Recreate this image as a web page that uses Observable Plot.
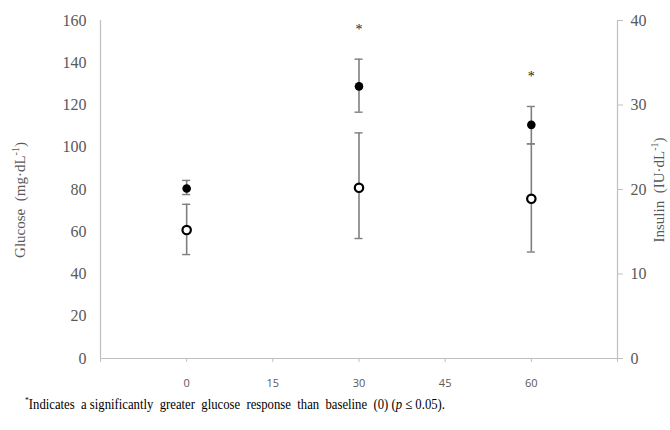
<!DOCTYPE html>
<html>
<head>
<meta charset="utf-8">
<script src="https://cdn.jsdelivr.net/npm/d3@7"></script>
<script src="https://cdn.jsdelivr.net/npm/@observablehq/plot@0.6"></script>
<style>
  html, body { margin: 0; padding: 0; background: #fff; }
  #chart { width: 670px; height: 390px; }
  #note { position: relative; height: 40px; font-family: "Liberation Serif", serif; font-size: 15px; color: #000; }
  #note span.t { position: absolute; left: 25px; top: 5px; white-space: pre; transform-origin: 0 0; }
  sup { font-size: 9px; }
</style>
</head>
<body>
<div id="chart"></div>
<div id="note"><span class="t"><sup>*</sup>Indicates  a significantly  greater  glucose  response  than  baseline  (0) (<i>p</i> ≤ 0.05).</span></div>
<script>
// Data
const times = [0, 30, 60];
const glucoseMean = [80.5, 128.8, 110.6];
const glucoseLow  = [77.6, 116.6, 101.6];
const glucoseHigh = [84.3, 141.7, 119.3];
const insulinMean = [15.2, 20.2, 18.9];
const insulinLow  = [12.3, 14.2, 12.6];
const insulinHigh = [18.25, 26.7, 25.4];
const significant = [false, true, true];

const xTicks = [-15, 0, 15, 30, 45, 60, 75];
const xLabelTicks = [0, 15, 30, 45, 60];
const glucoseTicks = [0, 20, 40, 60, 80, 100, 120, 140, 160];
const insulinTicks = [0, 10, 20, 30, 40];

const INS_SCALE = 4; // 40 IU on right axis = 160 mg on left axis

const rows = times.map((t, i) => ({
  t,
  g: glucoseMean[i], gLo: glucoseLow[i], gHi: glucoseHigh[i],
  ins: insulinMean[i] * INS_SCALE, insLo: insulinLow[i] * INS_SCALE, insHi: insulinHigh[i] * INS_SCALE,
  sig: significant[i]
}));

const axisGray = "#bfbfbf";
const barGray = "#7f7f7f";
const textGray = "#595959";
const capHalf = 0.7;

const plot = Plot.plot({
  width: 670,
  height: 390,
  marginLeft: 100,
  marginRight: 53,
  marginTop: 20,
  marginBottom: 32,
  x: { domain: [-15, 75] },
  y: { domain: [0, 160] },
  style: { background: "#fff", fontFamily: "'Liberation Serif', serif" },
  marks: [
    Plot.ruleX([-15], { stroke: axisGray, strokeWidth: 1.2 }),
    Plot.ruleX([75], { stroke: axisGray, strokeWidth: 1.2 }),
    Plot.ruleY([0], { stroke: axisGray, strokeWidth: 1.2 }),
    Plot.axisX({
      ticks: xTicks, tickSize: 4, tickPadding: 17, stroke: axisGray, fill: textGray,
      tickFormat: d => xLabelTicks.includes(d) ? String(d) : "",
      fontSize: 11, label: null, className: "xax"
    }),
    Plot.axisY({
      anchor: "left", ticks: glucoseTicks, tickSize: 0, tickPadding: 14, fill: textGray,
      fontSize: 16, label: null
    }),
    Plot.axisY({
      anchor: "right", ticks: insulinTicks.map(v => v * INS_SCALE), tickSize: 5, tickPadding: 8,
      stroke: axisGray, fill: textGray, tickFormat: d => String(d / INS_SCALE),
      fontSize: 16, label: null
    }),
    // insulin error bars
    Plot.ruleX(rows, { x: "t", y1: "insLo", y2: "insHi", stroke: barGray, strokeWidth: 1.6 }),
    Plot.ruleY(rows, { y: "insLo", x1: d => d.t - capHalf, x2: d => d.t + capHalf, stroke: barGray, strokeWidth: 1.4 }),
    Plot.ruleY(rows, { y: "insHi", x1: d => d.t - capHalf, x2: d => d.t + capHalf, stroke: barGray, strokeWidth: 1.4 }),
    // glucose error bars
    Plot.ruleX(rows, { x: "t", y1: "gLo", y2: "gHi", stroke: barGray, strokeWidth: 1.6 }),
    Plot.ruleY(rows, { y: "gLo", x1: d => d.t - capHalf, x2: d => d.t + capHalf, stroke: barGray, strokeWidth: 1.4 }),
    Plot.ruleY(rows, { y: "gHi", x1: d => d.t - capHalf, x2: d => d.t + capHalf, stroke: barGray, strokeWidth: 1.4 }),
    // points
    Plot.dot(rows, { x: "t", y: "ins", r: 4.2, fill: "#fff", stroke: "#000", strokeWidth: 2.2 }),
    Plot.dot(rows, { x: "t", y: "g", r: 4.3, fill: "#000", stroke: "none" }),
    // significance asterisks
    Plot.text(rows.filter(d => d.sig), {
      x: "t", y: "gHi", text: () => "*", dy: -30, fill: "#222", fontSize: 14
    })
  ]
});

document.getElementById("chart").appendChild(plot);

const svg = d3.select(plot);
svg.style("font-family", "'Liberation Serif', serif");
// x tick labels in a sans face, like the reference
svg.selectAll("text").each(function () {
  const g = this.closest("g");
  const lab = g ? (g.getAttribute("aria-label") || "") + " " + (g.getAttribute("class") || "") : "";
  const pg = g && g.parentNode && g.parentNode.getAttribute ? (g.parentNode.getAttribute("aria-label") || "") : "";
  if (lab.includes("x-axis") || lab.includes("xax") || pg.includes("x-axis")) {
    this.style.fontFamily = "'Open Sans', sans-serif";
  } else {
    this.style.fontFamily = "'Liberation Serif', serif";
  }
});

// Axis titles with superscripts
function addTitle(x, y, main, unit) {
  const t = svg.append("text")
    .attr("transform", `translate(${x},${y}) rotate(-90)`)
    .attr("text-anchor", "middle")
    .attr("dominant-baseline", "middle")
    .attr("fill", textGray)
    .style("font-family", "'Liberation Serif', serif")
    .attr("font-size", 15)
    .attr("xml:space", "preserve");
  t.append("tspan").text(main + "  (" + unit);
  t.append("tspan").attr("font-size", 10).attr("dy", -5).text("-1");
  t.append("tspan").attr("dy", 5).text(")");
}
addTitle(22, 200, "Glucose", "mg·dL");
addTitle(661, 190, "Insulin", "IU·dL");

// fit footnote width to the reference (~420px)
const span = document.querySelector("#note span.t");
const w = span.getBoundingClientRect().width;
if (w > 0) span.style.transform = `scaleX(${420 / w})`;
</script>
</body>
</html>
